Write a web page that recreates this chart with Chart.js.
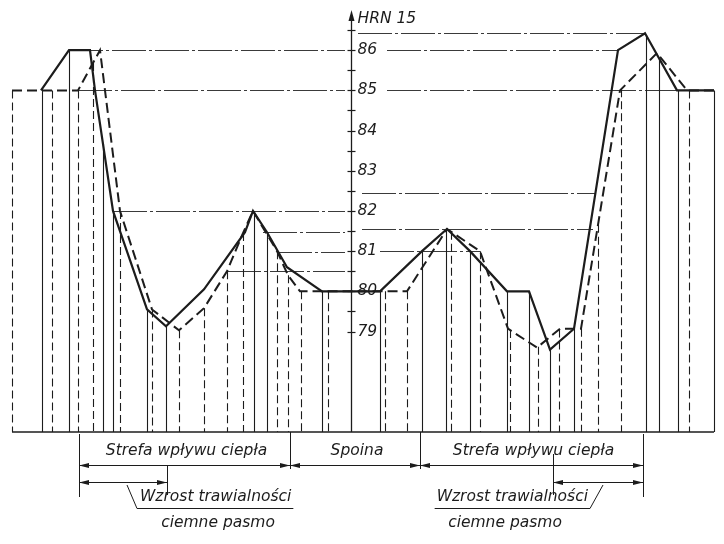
<!DOCTYPE html>
<html><head><meta charset="utf-8">
<script src="https://cdn.jsdelivr.net/npm/chart.js@4/dist/chart.umd.min.js"></script>
<style>html,body{margin:0;padding:0;background:#fff}#wrap{width:724px;height:544px;position:relative}</style>
</head><body><div id="wrap"><canvas id="c"></canvas></div>
<script>
// Position across the joint (mm from weld axis, estimated) and hardness HRN 15
const solidX = [-31.0, -28.2, -26.1, -25.6, -23.8, -20.4, -18.5, -14.7, -10.6, -9.8, -8.4, -6.4, -2.9, 2.9, 7.1, 9.6, 11.9, 15.6, 17.8, 19.9, 22.3, 26.7, 29.4, 32.6, 36.3];
const solidY = [85.0, 86.0, 86.0, 85.0, 82.0, 79.55, 79.13, 80.05, 81.47, 82.0, 81.47, 80.6, 80.0, 80.0, 81.0, 81.55, 81.0, 80.0, 80.0, 78.55, 79.07, 86.0, 86.42, 85.0, 85.0];
const dashedX = [-33.9, -27.3, -25.1, -23.1, -19.9, -17.2, -14.7, -12.4, -10.8, -9.8, -7.4, -6.3, -5.1, 5.6, 9.6, 12.9, 15.7, 18.6, 20.9, 23.0, 26.9, 30.6, 33.6, 36.3];
const dashedY = [85.0, 85.0, 86.0, 82.0, 79.55, 79.03, 79.58, 80.5, 81.45, 82.0, 81.0, 80.4, 80.0, 80.0, 81.55, 81.0, 79.07, 78.6, 79.07, 79.07, 85.0, 85.93, 85.0, 85.0];
// measuring positions (vertical lines)
const solidDropX = [-30.9, -28.2, -24.8, -23.8, -20.4, -18.5, -9.7, -8.4, -2.9, 2.9, 7.1, 9.5, 11.9, 15.6, 17.8, 19.9, 22.3, 29.5, 30.8, 32.7, 36.3];
const dashedDropX = [-33.9, -29.9, -27.3, -25.8, -23.1, -19.9, -17.2, -14.7, -12.4, -10.8, -7.4, -6.3, -5.0, -2.3, 3.4, 5.6, 10.0, 12.9, 15.9, 18.7, 20.8, 23.0, 24.7, 27.0, 33.8];
// reference lines to the hardness axis
const refValue = [86, 85, 82, 81.47, 80.97, 80.5, 86.42, 86, 85, 82.45, 81.55, 81.0];
const refFrom  = [-28.2, -27.3, -23.8, -8.8, -7.3, -12.4, 0.7, 3.6, 3.6, 1.1, 1.1, 2.9];
const refTo    = [-0.6, -0.6, -0.6, -0.6, -0.6, -0.6, 29.4, 26.7, 36.3, 24.4, 24.2, 12.9];
// axis
const tickValues = [79, 80, 81, 82, 83, 84, 85, 86];
const tickLabels = ["79", "80", "81", "82", "83", "84", "85", "86"];
const minorTicks = [79, 79.5, 80, 80.5, 81, 81.5, 82, 82.5, 83, 83.5, 84, 84.5, 85, 85.5, 86, 86.5];
const axisTitle = "HRN 15";
// dimensions below the specimen
const zoneBounds = [-27.2, -6.1, 6.9, 29.2];
const zoneLabels = ["Strefa wpływu ciepła", "Spoina", "Strefa wpływu ciepła"];
const bandLeft = [-27.2, -18.4];
const bandRight = [20.2, 29.2];
const noteLine1 = "Wzrost trawialności";
const noteLine2 = "ciemne pasmo";
const specimenEdges = [-33.9, 36.3];

const INK = '#1c1c1c';
const FONT = 'italic 15.5px "DejaVu Sans", sans-serif';

function interp(xs, ys, x) {
  if (x <= xs[0]) return ys[0];
  for (let i = 1; i < xs.length; i++) {
    if (x <= xs[i]) {
      const t = (x - xs[i-1]) / (xs[i] - xs[i-1]);
      return ys[i-1] + t * (ys[i] - ys[i-1]);
    }
  }
  return ys[ys.length - 1];
}
function seg(ctx, x1, y1, x2, y2) { ctx.beginPath(); ctx.moveTo(x1, y1); ctx.lineTo(x2, y2); ctx.stroke(); }
function arrowHead(ctx, x, y, dir) {
  ctx.beginPath(); ctx.moveTo(x, y); ctx.lineTo(x - dir * 10, y - 2.5); ctx.lineTo(x - dir * 10, y + 2.5); ctx.closePath(); ctx.fill();
}

const drawing = {
  id: 'drawing',
  beforeDatasetsDraw(chart) {
    const { ctx, scales: { x: sx, y: sy }, chartArea: ca } = chart;
    ctx.save();
    ctx.strokeStyle = '#3a3a3a'; ctx.lineWidth = 1;
    ctx.setLineDash([34, 3, 3, 3]);
    refValue.forEach((v, i) => {
      const py = Math.round(sy.getPixelForValue(v)) + 0.5;
      seg(ctx, sx.getPixelForValue(refFrom[i]), py, sx.getPixelForValue(refTo[i]), py);
    });
    ctx.strokeStyle = INK; ctx.lineWidth = 1.1;
    ctx.setLineDash([]);
    solidDropX.forEach(x => {
      const px = Math.round(sx.getPixelForValue(x)) + 0.5;
      seg(ctx, px, sy.getPixelForValue(interp(solidX, solidY, x)), px, ca.bottom);
    });
    ctx.setLineDash([8, 4]);
    dashedDropX.forEach(x => {
      const px = Math.round(sx.getPixelForValue(x)) + 0.5;
      seg(ctx, px, sy.getPixelForValue(interp(dashedX, dashedY, x)), px, ca.bottom);
    });
    ctx.setLineDash([]);
    ctx.lineWidth = 1.6;
    seg(ctx, sx.getPixelForValue(specimenEdges[0]), ca.bottom, sx.getPixelForValue(specimenEdges[1]), ca.bottom);
    ctx.restore();
  },
  afterDatasetsDraw(chart) {
    const { ctx, scales: { x: sx, y: sy }, chartArea: ca } = chart;
    ctx.save();
    ctx.strokeStyle = INK; ctx.fillStyle = INK; ctx.setLineDash([]);
    // hardness axis
    const ax = Math.round(sx.getPixelForValue(0)) + 0.5;
    ctx.lineWidth = 1.3;
    seg(ctx, ax, ca.bottom, ax, ca.top + 6);
    ctx.beginPath(); ctx.moveTo(ax, ca.top); ctx.lineTo(ax - 3, ca.top + 11); ctx.lineTo(ax + 3, ca.top + 11); ctx.closePath(); ctx.fill();
    ctx.lineWidth = 1.2;
    minorTicks.forEach(v => { const py = Math.round(sy.getPixelForValue(v)) + 0.5; seg(ctx, ax - 4, py, ax + 4, py); });
    ctx.font = FONT; ctx.textAlign = 'left'; ctx.textBaseline = 'middle';
    tickValues.forEach((v, i) => ctx.fillText(tickLabels[i], ax + 6, sy.getPixelForValue(v)));
    ctx.fillText(axisTitle, ax + 6, ca.top + 9);

    // dimension lines
    const b = ca.bottom;
    const row1 = b + 33, row2 = b + 50;
    ctx.lineWidth = 1;
    const px = v => Math.round(sx.getPixelForValue(v)) + 0.5;
    seg(ctx, px(zoneBounds[0]), b + 2, px(zoneBounds[0]), b + 65);
    seg(ctx, px(zoneBounds[1]), b, px(zoneBounds[1]), b + 37);
    seg(ctx, px(zoneBounds[2]), b, px(zoneBounds[2]), b + 37);
    seg(ctx, px(zoneBounds[3]), b + 2, px(zoneBounds[3]), b + 65);
    seg(ctx, px(bandLeft[1]), b + 33, px(bandLeft[1]), b + 63);
    seg(ctx, px(bandRight[0]), b + 22, px(bandRight[0]), b + 63);
    const dim = (a, c, y) => {
      const pa = sx.getPixelForValue(a), pc = sx.getPixelForValue(c);
      seg(ctx, pa, y + 0.5, pc, y + 0.5);
      arrowHead(ctx, pa, y + 0.5, -1); arrowHead(ctx, pc, y + 0.5, 1);
    };
    ctx.textAlign = 'center'; ctx.textBaseline = 'middle';
    for (let i = 0; i < zoneLabels.length; i++) {
      dim(zoneBounds[i], zoneBounds[i+1], row1);
      ctx.fillText(zoneLabels[i], (sx.getPixelForValue(zoneBounds[i]) + sx.getPixelForValue(zoneBounds[i+1])) / 2 + 2, row1 - 14);
    }
    dim(bandLeft[0], bandLeft[1], row2);
    dim(bandRight[0], bandRight[1], row2);

    // notes
    const noteY = b + 65, ulY = b + 76.5, note2Y = b + 91;
    ctx.textAlign = 'left';
    const w1 = ctx.measureText(noteLine1).width;
    const lx = sx.getPixelForValue(-21.1);
    ctx.fillText(noteLine1, lx, noteY);
    seg(ctx, lx - 3, ulY, lx + w1 + 2, ulY);
    seg(ctx, sx.getPixelForValue(-22.4), row2 + 3, lx - 3, ulY);
    ctx.textAlign = 'center';
    ctx.fillText(noteLine2, sx.getPixelForValue(-13.3), note2Y);

    const rx = sx.getPixelForValue(23.9);
    ctx.textAlign = 'right';
    ctx.fillText(noteLine1, rx - 2, noteY);
    seg(ctx, rx - w1 - 4, ulY, rx, ulY);
    seg(ctx, rx, ulY, sx.getPixelForValue(25.2), row2 + 3);
    ctx.textAlign = 'center';
    ctx.fillText(noteLine2, sx.getPixelForValue(15.4), note2Y);
    ctx.restore();
  }
};

new Chart(document.getElementById('c'), {
  type: 'line',
  data: {
    datasets: [
      { label: 'solid', data: solidX.map((x, i) => ({ x, y: solidY[i] })), borderColor: INK, borderWidth: 2.2, pointRadius: 0, tension: 0, fill: false },
      { label: 'dashed', data: dashedX.map((x, i) => ({ x, y: dashedY[i] })), borderColor: INK, borderWidth: 2, borderDash: [10, 5], pointRadius: 0, tension: 0, fill: false }
    ]
  },
  options: {
    responsive: true, maintainAspectRatio: false, animation: false,
    layout: { padding: { left: 0, right: 0, top: 10, bottom: 112 } },
    plugins: { legend: { display: false }, tooltip: { enabled: false } },
    scales: {
      x: { type: 'linear', min: -35.1, max: 37.3, display: false },
      y: { type: 'linear', min: 76.5, max: 87, display: false }
    }
  },
  plugins: [drawing]
});
</script></body></html>
